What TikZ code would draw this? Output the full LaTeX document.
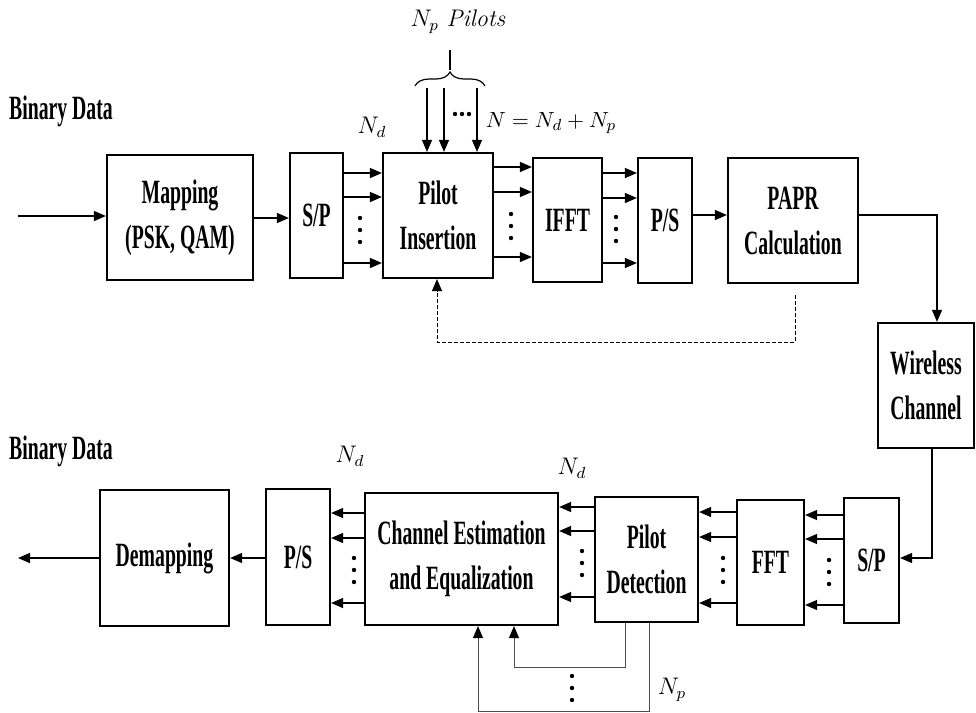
\documentclass[tikz,border=0pt]{standalone}
\usepackage{amsmath}
\usepackage{fontspec}
\usepackage{tikz}
\usetikzlibrary{arrows.meta, positioning, calc, decorations.pathreplacing}
\newfontfamily\boxfont{Liberation Serif}[FakeStretch=0.58]

% three dots, vertical or horizontal
\newcommand\vdotz[1]{\foreach \k in {-1,0,1} \fill ($(#1)+(0,\k*12)$) circle (1.1pt);}
\newcommand\hdotz[1]{\foreach \k in {-1,0,1} \fill ($(#1)+(\k*7,0)$) circle (1.1pt);}

\begin{document}
\begin{tikzpicture}[x=0.5pt, y=-0.5pt, >={Triangle[length=6pt,width=5pt]}]
  \tikzset{
    blk/.style = {rectangle, draw, line width=1.1pt, inner sep=0pt, align=center,
                  font=\boxfont\bfseries\fontsize{17}{22.5}\selectfont},
    arr/.style = {->, line width=0.7pt},
    thin/.style = {line width=0.5pt, draw=black!70, -{Triangle[length=6pt,width=5pt,color=black]}},
    lbl/.style = {inner sep=0pt, font=\fontsize{12}{14}\selectfont}
  }
  \useasboundingbox (0,0) rectangle (976,713);

  % Transmitter
  \node [blk, minimum width=73pt, minimum height=62.5pt] (map) at (180,217.5) {Mapping\\(PSK, QAM)};
  \node [blk, minimum width=26.5pt, minimum height=62.5pt] (sptx) at (316.5,215.5) {S/P};
  \node [blk, minimum width=55pt, minimum height=62.5pt] (pilot) at (438,215.5) {Pilot\\Insertion};
  \node [blk, minimum width=34.5pt, minimum height=62pt] (ifft) at (567.5,220) {IFFT};
  \node [blk, minimum width=27pt, minimum height=62.5pt] (pstx) at (665,220.5) {P/S};
  \node [blk, minimum width=65pt, minimum height=62.5pt] (papr) at (793,220.5) {PAPR\\Calculation};
  \node [blk, minimum width=48pt, minimum height=62.5pt] (wireless) at (926,385.5) {Wireless\\Channel};

  % Receiver
  \node [blk, minimum width=64.5pt, minimum height=68pt] (demap) at (164.5,558) {Demapping};
  \node [blk, minimum width=32pt, minimum height=68pt] (psrx) at (298,557) {P/S};
  \node [blk, minimum width=96.5pt, minimum height=66pt] (chest) at (461.5,559) {Channel Estimation\\and Equalization};
  \node [blk, minimum width=51.5pt, minimum height=62.5pt] (pdet) at (646.5,559.5) {Pilot\\Detection};
  \node [blk, minimum width=33.5pt, minimum height=62.5pt] (fft) at (770.5,562.5) {FFT};
  \node [blk, minimum width=27.5pt, minimum height=62.5pt] (sprx) at (871.5,560.5) {S/P};

  % Labels
  \node [blk, draw=none] (bintx) at (61,111) {Binary Data};
  \node [blk, draw=none] (binrx) at (61,451) {Binary Data};
  \node [lbl] (ndtx) at (372,127) {$N_d$};
  \node [lbl, font=\fontsize{11}{13}\selectfont] (nsum) at (551,123) {$N = N_d + N_p$};
  \node [lbl] (npil) at (458,22) {$N_p$ \textit{Pilots}};
  \node [lbl] (ndrx1) at (350,456) {$N_d$};
  \node [lbl] (ndrx2) at (572,468) {$N_d$};
  \node [lbl] (nprx) at (672,690) {$N_p$};

  % Input / output ends
  \coordinate (txin) at (18,216);
  \coordinate (rxout) at (18,558);
  \coordinate (bracetip) at (450,70);

  % Transmitter arrows
  \draw[arr] (txin) -- (map.west |- txin);
  \draw[arr] (map.east |- 0,218) -- (sptx.west |- 0,218);
  \foreach \yy in {173,197,263} \draw[arr] (sptx.east |- 0,\yy) -- (pilot.west |- 0,\yy);
  \foreach \yy in {167,192,257} \draw[arr] (pilot.east |- 0,\yy) -- (ifft.west |- 0,\yy);
  \foreach \yy in {173,198,263} \draw[arr] (ifft.east |- 0,\yy) -- (pstx.west |- 0,\yy);
  \draw[arr] (pstx.east |- 0,215) -- (papr.west |- 0,215);
  \draw[arr] (papr.east |- 0,215) -| (wireless.north -| 937,0);
  \draw[arr, line width=0.5pt, dash pattern=on 2pt off 1pt] (795,295) -- (795,342) -| (pilot.south -| 437,0);

  % Pilots
  \draw[line width=0.6pt, decorate, decoration={brace, amplitude=7pt}] (415,86) -- (485,86);
  \draw[line width=0.6pt] (bracetip) -- (bracetip |- 0,50);
  \foreach \xx in {427,444,477} \draw[arr] (\xx,88) -- (pilot.north -| \xx,0);
  \hdotz{462,114}

  % Receiver arrows
  \draw[arr] (wireless.south -| 932,0) |- (sprx.east |- 0,558);
  \foreach \yy in {515,539,605} \draw[arr] (sprx.west |- 0,\yy) -- (fft.east |- 0,\yy);
  \foreach \yy in {512,537,603} \draw[arr] (fft.west |- 0,\yy) -- (pdet.east |- 0,\yy);
  \foreach \yy in {507,531,597} \draw[arr] (pdet.west |- 0,\yy) -- (chest.east |- 0,\yy);
  \foreach \yy in {513,538,603} \draw[arr] (chest.west |- 0,\yy) -- (psrx.east |- 0,\yy);
  \draw[arr] (psrx.west |- 0,558) -- (demap.east |- 0,558);
  \draw[arr] (demap.west |- rxout) -- (rxout);
  \draw[thin] (pdet.south -| 625,0) -- (625,667) -| (chest.south -| 514,0);
  \draw[thin] (pdet.south -| 649,0) -- (649,711) -| (chest.south -| 478,0);

  % Dots
  \vdotz{360,230}
  \vdotz{511,226}
  \vdotz{616,229}
  \vdotz{829,572}
  \vdotz{723,570}
  \vdotz{582,563}
  \vdotz{354,570}
  \vdotz{572,688}
\end{tikzpicture}
\end{document}
